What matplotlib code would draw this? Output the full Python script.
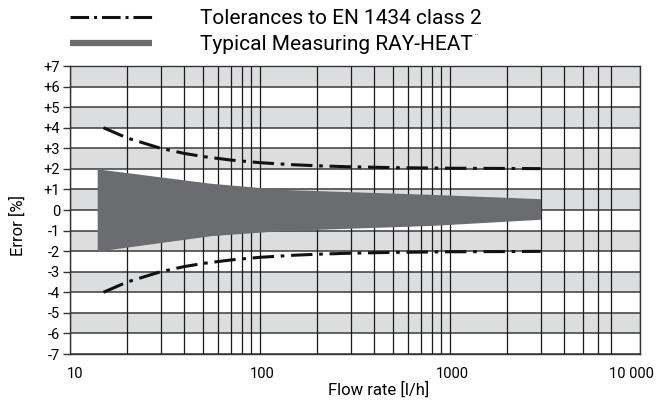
import matplotlib
matplotlib.use("Agg")
import matplotlib.pyplot as plt
from matplotlib.ticker import FixedLocator, NullFormatter
from matplotlib.lines import Line2D
from matplotlib.transforms import ScaledTranslation

plt.rcParams['font.family'] = ['Roboto', 'DejaVu Sans']

# Data
tol_flow = [15, 20, 30, 40, 50, 70, 100, 150, 200, 300, 500, 1000, 2000, 3000]
tol_upper = [4.0, 3.5, 3.0, 2.75, 2.6, 2.43, 2.3, 2.2, 2.15, 2.1, 2.06, 2.03, 2.02, 2.01]
tol_lower = [-v for v in tol_upper]

band_flow = [13.9, 55, 130, 800, 3000]
band_upper = [2.0, 1.3, 1.0, 0.76, 0.55]
band_lower = [-2.0, -1.25, -1.0, -0.75, -0.45]

y_ticks = list(range(-7, 8))
y_labels = [("+%d" % v if v > 0 else "%d" % v) for v in y_ticks]
x_ticks = [10, 100, 1000, 10000]
x_labels = ["10", "100", "1000", "10 000"]
x_minor = [20, 30, 40, 50, 60, 70, 80, 90,
           200, 300, 400, 500, 600, 700, 800, 900,
           2000, 3000, 4000, 5000, 6000, 7000]

legend_labels = ["Tolerances to EN 1434 class 2", "Typical Measuring RAY-HEAT"]

band_grey = "#dcdddf"
fill_col = "#6b6c70"

fig = plt.figure(figsize=(6.57, 4.05), dpi=100)
ax = fig.add_axes([70/657, 1-354/405, 570/657, 288/405])
ax.set_xscale("log")
ax.set_xlim(10, 10000)
ax.set_ylim(-7, 7)

# alternating bands
for lo in range(-6, 7, 2):
    ax.axhspan(lo, lo + 1, color=band_grey, lw=0, zorder=0)

for v in y_ticks:
    ax.axhline(v, color="#3a3a3a", lw=1.1, zorder=1)
for v in x_minor + x_ticks:
    ax.axvline(v, color="#1a1a1a", lw=0.9, zorder=1)

ax.fill_between(band_flow, band_lower, band_upper, color=fill_col, lw=0, zorder=2)

dash = (0, (7, 2.2, 1.2, 2.2))
ax.plot(tol_flow, tol_upper, color="#111111", lw=2.2, linestyle=dash, zorder=3)
ax.plot(tol_flow, tol_lower, color="#111111", lw=2.2, linestyle=dash, zorder=3)

ax.set_yticks(y_ticks)
ax.set_yticklabels(y_labels, fontsize=10.5)
ax.xaxis.set_major_locator(FixedLocator(x_ticks))
ax.set_xticklabels(x_labels, fontsize=10.5)
ax.xaxis.set_minor_locator(FixedLocator(x_minor))
ax.xaxis.set_minor_formatter(NullFormatter())
ax.tick_params(axis="x", which="both", length=0, pad=9)
ax.tick_params(axis="y", length=5, width=1, pad=2, color="#333333")
shifts = [5, 2, 2, -9]
for lab, s in zip(ax.get_xticklabels(), shifts):
    lab.set_transform(lab.get_transform() + ScaledTranslation(s/100, 0, fig.dpi_scale_trans))
for s in ax.spines.values():
    s.set_color("#333333")
    s.set_linewidth(1.0)

fig.text(18/657, 1-226/405, "Error [%]", rotation=90, ha="center", va="center", fontsize=12)
fig.text(379/657, 1-390/405, "Flow rate [l/h]", ha="center", va="center", fontsize=12)

# legend
lx0, lx1 = 70/657, 152/657
fig.add_artist(Line2D([lx0, lx1], [1-17/405, 1-17/405], color="#111111", lw=2.2,
                      linestyle=(0, (6.1, 1.6, 1.0, 1.6)), transform=fig.transFigure))
fig.add_artist(Line2D([lx0, lx1], [1-43/405, 1-43/405], color=fill_col, lw=4.5,
                      solid_capstyle="butt", transform=fig.transFigure))
fig.text(200/657, 1-18/405, legend_labels[0], ha="left", va="center", fontsize=15)
t2 = fig.text(200/657, 1-44/405, legend_labels[1], ha="left", va="center", fontsize=15)
fig.canvas.draw()
bb = t2.get_window_extent()
fig.text((bb.x1 + 2) / fig.bbox.width, (bb.y1 - 3) / fig.bbox.height, "¨",
         ha="left", va="center", fontsize=6, color="#444444")

fig.savefig("out.png", dpi=100)
